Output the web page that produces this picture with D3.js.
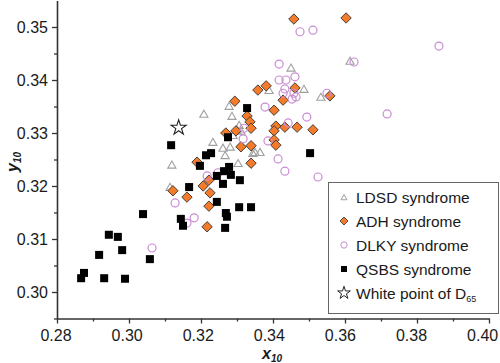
<!DOCTYPE html>
<html>
<head>
<meta charset="utf-8">
<title>Chromaticity scatter</title>
<script src="https://d3js.org/d3.v7.min.js"></script>
<style>
  body { margin: 0; background: #fff; }
  text { font-family: "Liberation Sans", Arial, sans-serif; fill: #1a1a1a; }
</style>
</head>
<body>
<svg id="chart" width="500" height="363"></svg>
<script>
// data: [x10, y10] per group
var ldsd = [
  [0.3614, 0.3436], [0.3450, 0.3423], [0.3389, 0.3381], [0.3486, 0.3383], [0.3533, 0.3368],
  [0.3278, 0.3351], [0.3208, 0.3336], [0.3286, 0.3332], [0.3306, 0.3315], [0.3300, 0.3306],
  [0.3289, 0.3296], [0.3233, 0.3283], [0.3261, 0.3272], [0.3281, 0.3274], [0.3267, 0.3258],
  [0.3303, 0.3243], [0.3119, 0.3240], [0.3350, 0.3264], [0.3364, 0.3264], [0.3114, 0.3198],
  [0.3311, 0.3304], [0.3344, 0.3262]
];
var adh = [
  [0.3458, 0.3515], [0.3603, 0.3517], [0.3358, 0.3381], [0.3381, 0.3389], [0.3461, 0.3385],
  [0.3428, 0.3362], [0.3558, 0.3370], [0.3294, 0.3360], [0.3403, 0.3343], [0.3328, 0.3332],
  [0.3336, 0.3321], [0.3339, 0.3309], [0.3408, 0.3313], [0.3433, 0.3311], [0.3467, 0.3311],
  [0.3511, 0.3306], [0.3403, 0.3304], [0.3269, 0.3300], [0.3297, 0.3304], [0.3403, 0.3287],
  [0.3408, 0.3277], [0.3339, 0.3276], [0.3311, 0.3274], [0.3339, 0.3243], [0.3189, 0.3245],
  [0.3206, 0.3200], [0.3222, 0.3211], [0.3122, 0.3191], [0.3161, 0.3179], [0.3225, 0.3187],
  [0.3222, 0.3162], [0.3217, 0.3123]
];
var dlky = [
  [0.3475, 0.3491], [0.3511, 0.3494], [0.3861, 0.3464], [0.3417, 0.3430], [0.3625, 0.3434],
  [0.3417, 0.3400], [0.3436, 0.3400], [0.3461, 0.3406], [0.3433, 0.3383], [0.3428, 0.3375],
  [0.3458, 0.3375], [0.3453, 0.3364], [0.3550, 0.3375], [0.3378, 0.3349], [0.3494, 0.3330],
  [0.3442, 0.3319], [0.3717, 0.3336], [0.3386, 0.3285], [0.3414, 0.3251], [0.3433, 0.3228],
  [0.3525, 0.3217], [0.3319, 0.3309], [0.3317, 0.3289], [0.3247, 0.3225], [0.3217, 0.3219],
  [0.3161, 0.3130], [0.3181, 0.3140], [0.3064, 0.3083], [0.3128, 0.3168], [0.3464, 0.3368]
];
var qsbs = [
  [0.2867, 0.3026], [0.2875, 0.3036], [0.2917, 0.3070], [0.2931, 0.3026], [0.2944, 0.3108],
  [0.2969, 0.3104], [0.2981, 0.3079], [0.2989, 0.3025], [0.3039, 0.3147], [0.3058, 0.3062],
  [0.3117, 0.3277], [0.3144, 0.3138], [0.3150, 0.3125], [0.3167, 0.3198], [0.3197, 0.3238],
  [0.3214, 0.3258], [0.3228, 0.3262], [0.3244, 0.3219], [0.3244, 0.3170], [0.3261, 0.3204],
  [0.3264, 0.3228], [0.3269, 0.3149], [0.3272, 0.3142], [0.3267, 0.3121], [0.3275, 0.3292],
  [0.3278, 0.3236], [0.3283, 0.3221], [0.3306, 0.3160], [0.3308, 0.3211], [0.3328, 0.3347],
  [0.3339, 0.3160], [0.3503, 0.3262]
];
var whitePoint = [[0.3138, 0.3310]];

var xTicks = [0.28, 0.30, 0.32, 0.34, 0.36, 0.38, 0.40];
var xMinor = [0.29, 0.31, 0.33, 0.35, 0.37, 0.39];
var yTicks = [0.30, 0.31, 0.32, 0.33, 0.34, 0.35];
var yMinor = [0.295, 0.305, 0.315, 0.325, 0.335, 0.345];

var legendLabels = ["LDSD syndrome", "ADH syndrome", "DLKY syndrome", "QSBS syndrome", "White point of D"];

var svg = d3.select("#chart");

var x = d3.scaleLinear().domain([0.28, 0.40]).range([57, 489]);
var y = d3.scaleLinear().domain([0.295, 0.355]).range([318.5, 0.5]);

var axisColor = "#333";

// axes
var xAxisG = svg.append("g").attr("transform", "translate(0,318.5)")
  .call(d3.axisBottom(x).tickValues(xTicks).tickSize(5).tickSizeOuter(0).tickFormat(d3.format(".2f")));
svg.append("g").attr("transform", "translate(0,318.5)")
  .call(d3.axisBottom(x).tickValues(xMinor).tickSize(3).tickSizeOuter(0).tickFormat(""))
  .select(".domain").remove();
var yAxisG = svg.append("g").attr("transform", "translate(57,0)")
  .call(d3.axisLeft(y).tickValues(yTicks).tickSize(5).tickSizeOuter(0).tickFormat(d3.format(".2f")));
svg.append("g").attr("transform", "translate(57,0)")
  .call(d3.axisLeft(y).tickValues(yMinor).tickSize(3).tickSizeOuter(0).tickFormat(""))
  .select(".domain").remove();

svg.selectAll(".domain").attr("stroke", axisColor).attr("stroke-width", 1.6);
svg.selectAll(".tick line").attr("stroke", axisColor).attr("stroke-width", 1.3);
svg.selectAll(".tick text").attr("font-family", "Liberation Sans, Arial, sans-serif")
  .attr("font-size", 16).attr("fill", "#1a1a1a");
// labels drift slightly left along the axis in the original
xAxisG.selectAll(".tick text").attr("dy", "1.05em").attr("y", 6)
  .attr("x", function (d, i) { return -1.5 - i * 0.9; });
yAxisG.selectAll(".tick text").attr("x", -9);

// axis titles
var xt = svg.append("text").attr("x", 262).attr("y", 359)
  .attr("font-weight", "bold").attr("font-style", "italic").attr("font-size", 16);
xt.append("tspan").text("x");
xt.append("tspan").attr("font-size", 10).attr("dy", 3).text("10");

var yt = svg.append("text").attr("transform", "translate(18,172) rotate(-90)")
  .attr("font-weight", "bold").attr("font-style", "italic").attr("font-size", 16);
yt.append("tspan").text("y");
yt.append("tspan").attr("font-size", 10).attr("dy", 3).text("10");

// symbols
var triSym = function (s) { return d3.symbol().type(d3.symbolTriangle2).size(s)(); };
var starSym = function (s) { return d3.symbol().type(d3.symbolStar).size(s)(); };

var plot = svg.append("g");

plot.selectAll("path.ldsd").data(ldsd).join("path").attr("class", "ldsd")
  .attr("d", triSym(48))
  .attr("transform", function (d) { return "translate(" + x(d[0]) + "," + (y(d[1]) + 1) + ")"; })
  .attr("fill", "none").attr("stroke", "#a0a0a0").attr("stroke-width", 1.1);

plot.selectAll("path.adh").data(adh).join("path").attr("class", "adh")
  .attr("d", d3.symbol().type(d3.symbolSquare).size(54)())
  .attr("transform", function (d) { return "translate(" + x(d[0]) + "," + y(d[1]) + ") rotate(45)"; })
  .attr("fill", "#f47b2a").attr("stroke", "#3a3a3a").attr("stroke-width", 0.9);

plot.selectAll("circle.dlky").data(dlky).join("circle").attr("class", "dlky")
  .attr("cx", function (d) { return x(d[0]); })
  .attr("cy", function (d) { return y(d[1]); })
  .attr("r", 4).attr("fill", "none").attr("stroke", "#c98bd3").attr("stroke-width", 1.2);

plot.selectAll("rect.qsbs").data(qsbs).join("rect").attr("class", "qsbs")
  .attr("x", function (d) { return x(d[0]) - 4; })
  .attr("y", function (d) { return y(d[1]) - 4; })
  .attr("width", 8).attr("height", 8).attr("fill", "#000");

plot.selectAll("path.wp").data(whitePoint).join("path").attr("class", "wp")
  .attr("d", starSym(70))
  .attr("transform", function (d) { return "translate(" + x(d[0]) + "," + y(d[1]) + ")"; })
  .attr("fill", "#fff").attr("stroke", "#222").attr("stroke-width", 1.1);

// legend
var lg = svg.append("g");
lg.append("rect").attr("x", 328.5).attr("y", 182.5).attr("width", 170).attr("height", 131)
  .attr("fill", "#fff").attr("stroke", "#666").attr("stroke-width", 1);

var rowY = [197, 221, 245, 269, 293];
var sx = 344;
lg.append("path").attr("d", triSym(26)).attr("transform", "translate(" + sx + "," + (rowY[0] + 1) + ")")
  .attr("fill", "none").attr("stroke", "#a0a0a0").attr("stroke-width", 1);
lg.append("path").attr("d", d3.symbol().type(d3.symbolSquare).size(32)())
  .attr("transform", "translate(" + sx + "," + rowY[1] + ") rotate(45)")
  .attr("fill", "#f47b2a").attr("stroke", "#3a3a3a").attr("stroke-width", 0.8);
lg.append("circle").attr("cx", sx).attr("cy", rowY[2]).attr("r", 3.2)
  .attr("fill", "none").attr("stroke", "#c98bd3").attr("stroke-width", 1);
lg.append("rect").attr("x", sx - 3).attr("y", rowY[3] - 3).attr("width", 6).attr("height", 6).attr("fill", "#000");
lg.append("path").attr("d", starSym(50)).attr("transform", "translate(" + sx + "," + rowY[4] + ")")
  .attr("fill", "#fff").attr("stroke", "#222").attr("stroke-width", 1);

legendLabels.forEach(function (t, i) {
  var tx = lg.append("text").attr("x", 356).attr("y", rowY[i]).attr("dy", "0.36em")
    .attr("font-size", 15.5).text(t);
  if (i === 4) {
    tx.append("tspan").attr("font-size", 9).attr("dy", 3).text("65");
  }
});
</script>
</body>
</html>
